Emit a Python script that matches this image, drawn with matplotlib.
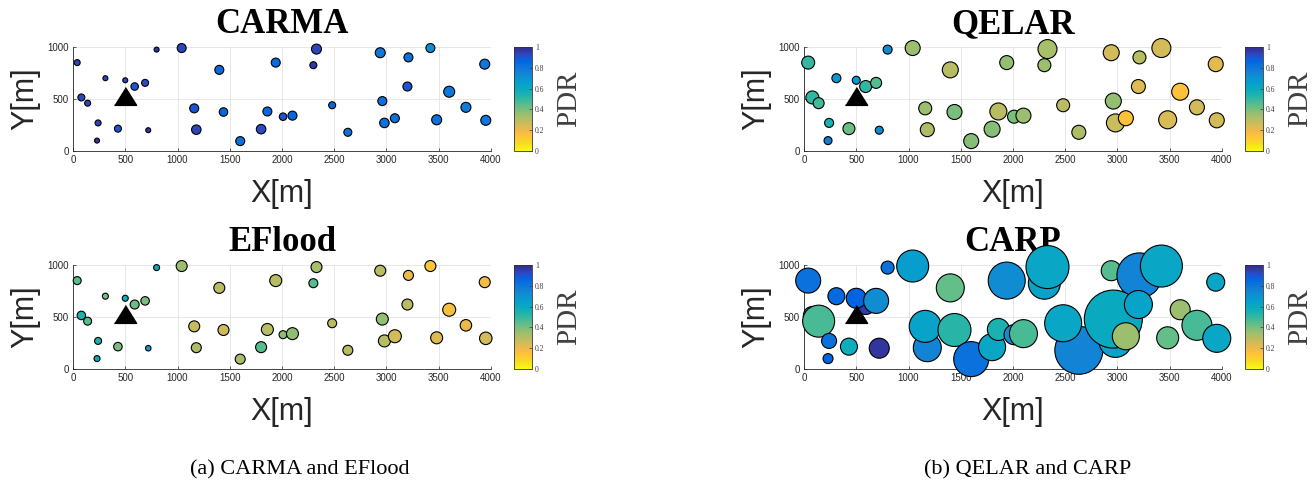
import numpy as np
import matplotlib
matplotlib.use('Agg')
import matplotlib.pyplot as plt
from matplotlib.colors import LinearSegmentedColormap

W, H = 1314, 483

# node positions (same deployment in every panel)
node_x = [40, 800, 1040, 2300, 2330, 2940, 3210, 3420, 3940, 1940,
          1400, 310, 590, 500, 690, 3600, 80, 140, 2630, 2980,
          2960, 3200, 2480, 3760, 1180, 1160, 1440, 1600, 1800, 1860,
          2010, 2100, 3080, 3480, 3950, 240, 430, 720, 230]
node_y = [850, 975, 990, 825, 980, 945, 900, 990, 835, 850,
          780, 700, 620, 680, 655, 570, 515, 460, 180, 270,
          480, 620, 440, 420, 205, 410, 375, 95, 210, 380,
          330, 340, 315, 300, 295, 270, 215, 200, 100]
sink_x, sink_y = 500, 530

# PDR per node and marker diameter (px) per protocol
carma_pdr = [.93, .97, .93, .96, .93, .80, .82, .72, .80, .84,
             .84, .93, .90, .93, .92, .80, .93, .93, .82, .82,
             .82, .90, .85, .78, .93, .90, .85, .82, .92, .85,
             .90, .85, .82, .82, .80, .93, .90, .97, .97]
carma_d = [6, 5, 9, 7, 10, 10, 9, 9, 10, 9,
           9, 5, 7.5, 5, 7, 11, 7, 6, 8, 9.5,
           9, 9, 7, 10, 9.5, 9, 8.5, 9, 9.5, 9,
           7.5, 9, 9, 10, 10, 6, 7, 5, 5]

qelar_pdr = [.50, .72, .35, .35, .33, .25, .30, .25, .22, .36,
             .30, .68, .50, .68, .45, .15, .50, .48, .32, .27,
             .36, .23, .30, .25, .32, .35, .40, .38, .38, .30,
             .40, .35, .15, .24, .25, .55, .42, .72, .78]
qelar_d = [13, 9, 15, 13, 19, 16, 13, 19, 15, 14,
           16, 9, 12, 8, 11, 17, 13, 11, 14, 18,
           16, 14, 13, 15, 14, 13, 15, 15, 16, 17,
           13, 15, 15, 18, 15, 9, 12, 8, 8]

eflood_pdr = [.45, .60, .35, .45, .33, .30, .20, .13, .18, .30,
              .30, .40, .42, .58, .40, .17, .55, .45, .30, .30,
              .36, .30, .30, .20, .32, .28, .26, .33, .45, .30,
              .37, .37, .25, .23, .25, .55, .40, .65, .60]
eflood_d = [8, 6, 11, 9, 11, 11, 10, 11, 11, 12,
            11, 6, 9, 6, 8.5, 13, 8.5, 8, 10, 12,
            12, 11, 9, 11.5, 10, 11, 11, 10, 11, 12,
            8, 12, 13, 12, 12.5, 7, 8.5, 5.5, 6]

carp_pdr = [.82, .82, .66, .63, .62, .45, .75, .62, .62, .72,
            .43, .85, .95, .87, .72, .35, .50, .47, .75, .63,
            .60, .63, .62, .47, .75, .63, .52, .82, .62, .55,
            .72, .47, .35, .43, .62, .82, .58, .97, .87]
carp_d = [25, 13, 32, 32, 43, 20, 45, 42, 18, 37,
          28, 17, 20, 20, 25, 20, 18, 32, 48, 33,
          58, 28, 37, 30, 28, 32, 33, 35, 27, 22,
          20, 28, 27, 22, 28, 15, 17, 20, 10]

cbar_ticks = [0, 0.2, 0.4, 0.6, 0.8, 1]
cbar_labels = ['0', '0.2', '0.4', '0.6', '0.8', '1']

# parula-like colormap, flipped so 1 = dark blue
parula_pts = [(0.2081, 0.1663, 0.5292), (0.1707, 0.2919, 0.7792),
              (0.0117, 0.3875, 0.8820), (0.0498, 0.4586, 0.8641),
              (0.0793, 0.5200, 0.8312), (0.0265, 0.6137, 0.8135),
              (0.0384, 0.6743, 0.7436), (0.1801, 0.7177, 0.6424),
              (0.3953, 0.7459, 0.5244), (0.6099, 0.7473, 0.4337),
              (0.7858, 0.7356, 0.3633), (0.9450, 0.7261, 0.2886),
              (0.9990, 0.7653, 0.2164), (0.9697, 0.8481, 0.1475),
              (0.9763, 0.9831, 0.0538)]
parula_pos = [0, 5, 8, 12, 16, 21, 26, 31, 36, 41, 46, 51, 54, 58, 63]
parula = LinearSegmentedColormap.from_list(
    'parula', [(p / 63, c) for p, c in zip(parula_pos, parula_pts)])
cmap = parula.reversed()

tri = [(-1, -0.8), (1, -0.8), (0, 0.8)]
dark = '#262626'


def rect(x0, y0, x1, y1):
    return [x0 / W, 1 - y1 / H, (x1 - x0) / W, (y1 - y0) / H]


fig = plt.figure(figsize=(W / 100, H / 100), dpi=100, facecolor='white')


def panel(ax_px, cb_px, title, pdr, diam):
    ax = fig.add_axes(rect(*ax_px))
    sc = ax.scatter(node_x, node_y, s=(np.array(diam) * 0.72) ** 2, c=pdr,
                    cmap=cmap, vmin=0, vmax=1, edgecolors='black',
                    linewidths=0.8, clip_on=False, zorder=4)
    ax.plot(sink_x, sink_y, ls='none', marker=tri, ms=16, color='black',
            clip_on=False, zorder=5)
    ax.set_xlim(0, 4000)
    ax.set_ylim(0, 1000)
    ax.set_xticks(np.arange(0, 4001, 500))
    ax.set_yticks([0, 500, 1000])
    ax.set_axisbelow(True)
    ax.grid(True, color='#e3e3e3', lw=0.6)
    for s in ['top', 'right']:
        ax.spines[s].set_visible(False)
    for s in ['left', 'bottom']:
        ax.spines[s].set_color(dark)
        ax.spines[s].set_linewidth(0.6)
    ax.tick_params(direction='in', length=2.5, width=0.5, colors=dark,
                   labelsize=7, pad=3)
    for t in ax.get_xticklabels() + ax.get_yticklabels():
        t.set_fontfamily('Liberation Sans')
    ax.set_title(title, fontsize=25, fontweight='bold',
                 family='Liberation Serif', pad=10)
    ax.set_xlabel('X[m]', fontsize=22, family='Liberation Sans', color=dark,
                  va='center')
    ax.xaxis.set_label_coords(0.5, -0.415)
    ax.set_ylabel('Y[m]', fontsize=22, family='Liberation Sans', color=dark,
                  va='center')
    ax.yaxis.set_label_coords(-0.115, 0.5)

    cax = fig.add_axes(rect(*cb_px))
    cb = fig.colorbar(sc, cax=cax)
    cb.set_ticks(cbar_ticks)
    cb.set_ticklabels(cbar_labels)
    cb.outline.set_linewidth(0.6)
    cb.outline.set_edgecolor('#333333')
    cb.ax.tick_params(direction='in', length=2, width=0.5, colors='#404040',
                      labelsize=5.5, pad=2)
    for t in cb.ax.get_yticklabels():
        t.set_fontfamily('Liberation Serif')
    cb.set_label('PDR', fontsize=21, family='Liberation Serif',
                 color='#404040', va='center')
    cb.ax.yaxis.set_label_coords(3.05, 0.5)
    return ax


panel((73, 47, 491, 151), (514, 47, 532, 151), 'CARMA', carma_pdr, carma_d)
panel((73, 265, 491, 369), (514, 265, 532, 369), 'EFlood', eflood_pdr, eflood_d)
panel((804, 47, 1222, 151), (1245, 47, 1263, 151), 'QELAR', qelar_pdr, qelar_d)
panel((804, 265, 1222, 369), (1245, 265, 1263, 369), 'CARP', carp_pdr, carp_d)

fig.text(300 / W, 1 - 470 / H, '(a) CARMA and EFlood', ha='center', va='center',
         fontsize=16, family='Liberation Serif')
fig.text(1028 / W, 1 - 470 / H, '(b) QELAR and CARP', ha='center', va='center',
         fontsize=16, family='Liberation Serif')

fig.savefig('out.png', dpi=100, facecolor='white')
